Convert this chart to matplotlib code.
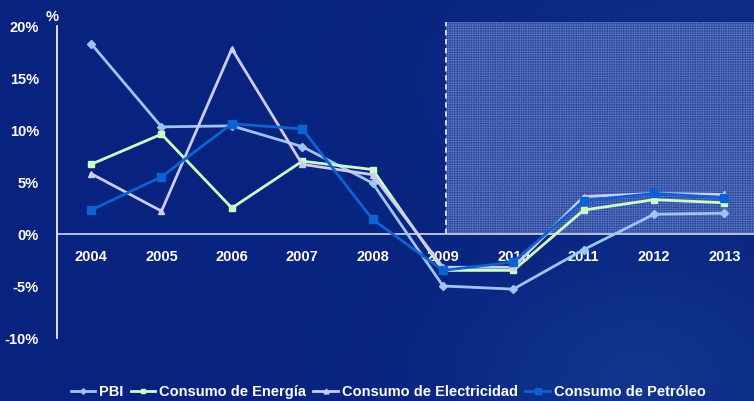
import matplotlib
matplotlib.use("Agg")
import matplotlib.pyplot as plt
import numpy as np
from matplotlib.patches import Rectangle

plt.rcParams['font.family'] = ['Liberation Sans', 'DejaVu Sans']
plt.rcParams['hatch.linewidth'] = 0.5

years = ["2004", "2005", "2006", "2007", "2008", "2009", "2010", "2011", "2012", "2013"]
pbi = [18.3, 10.3, 10.4, 8.4, 4.9, -5.0, -5.3, -1.5, 1.9, 2.0]
energia = [6.7, 9.6, 2.5, 7.0, 6.2, -3.5, -3.5, 2.3, 3.3, 3.0]
electricidad = [5.8, 2.2, 17.8, 6.7, 5.7, -3.2, -3.2, 3.6, 3.9, 3.8]
petroleo = [2.3, 5.5, 10.6, 10.1, 1.4, -3.5, -2.7, 3.2, 3.9, 3.5]
yticks = [-10, -5, 0, 5, 10, 15, 20]
ytick_labels = ["-10%", "-5%", "0%", "5%", "10%", "15%", "20%"]
labels = ["PBI", "Consumo de Energía", "Consumo de Electricidad", "Consumo de Petróleo"]

fig = plt.figure(figsize=(7.54, 4.01), dpi=100)
fig.patch.set_facecolor('#0a2c8c')

# subtle background gradient
bg = fig.add_axes([0, 0, 1, 1], zorder=-10)
yy, xx = np.mgrid[0:1:200j, 0:1:380j]
grad = 0.5 * np.exp(-((xx - 0.85) ** 2 / 0.05 + (yy - 0.95) ** 2 / 0.08)) \
    + 0.35 * np.exp(-((xx - 0.95) ** 2 / 0.1 + (yy - 0.2) ** 2 / 0.1))
c0 = np.array([0.03, 0.14, 0.50])
c1 = np.array([0.10, 0.27, 0.62])
img = c0[None, None, :] + (c1 - c0)[None, None, :] * grad[:, :, None]
bg.imshow(img, aspect='auto', extent=[0, 1, 0, 1], origin='upper')
bg.axis('off')

ax = fig.add_axes([57 / 754, (401 - 338) / 401, (754 - 57) / 754, (338 - 26) / 401])
ax.set_facecolor('none')
x = np.arange(len(years))
ax.set_xlim(-0.485, 9.42)
ax.set_ylim(-10, 20)

# shaded forecast region
rect = Rectangle((5.05, 0), 10, 20.4, facecolor='#23449e', edgecolor='#5b72bc',
                 hatch='+++++++', linewidth=0, clip_on=False, zorder=0)
ax.add_patch(rect)
ax.plot([5.05, 5.05], [0, 20.4], color='#dde4f4', linestyle=(0, (3, 2)),
        linewidth=1.3, clip_on=False, zorder=1)

ax.axhline(0, color='#c8cce0', linewidth=1.3, zorder=1)

ax.plot(x, pbi, color='#99c6f4', marker='D', markersize=4, linewidth=2, label=labels[0], zorder=3)
ax.plot(x, energia, color='#ccffc8', marker='s', markersize=5, linewidth=2, label=labels[1], zorder=3)
ax.plot(x, electricidad, color='#ccccf4', marker='^', markersize=5, linewidth=2, label=labels[2], zorder=3)
ax.plot(x, petroleo, color='#0c62d2', marker='s', markersize=6, linewidth=2, label=labels[3], zorder=4)

for s in ['top', 'right', 'bottom']:
    ax.spines[s].set_visible(False)
ax.spines['left'].set_color('white')
ax.spines['left'].set_linewidth(1.2)

ax.set_yticks(yticks)
ax.set_yticklabels(ytick_labels)
ax.tick_params(axis='y', length=0, pad=13, labelcolor='white', labelsize=10.5)
for t in ax.get_yticklabels():
    t.set_fontweight('bold')
ax.set_xticks([])
for i, yr in enumerate(years):
    ax.text(i, -2.2, yr, ha='center', va='center', color='white',
            fontsize=10.5, fontweight='bold', zorder=2)

fig.text(52 / 754, 1 - 17 / 401, '%', color='white', fontsize=10.5, fontweight='bold',
         ha='center', va='center')

leg = fig.legend(loc='center', bbox_to_anchor=(388 / 754, 1 - 392 / 401), ncol=4,
                 frameon=False, fontsize=10.5, handlelength=1.7, handletextpad=0.25,
                 columnspacing=0.5, borderaxespad=0, markerscale=0.7)
for t in leg.get_texts():
    t.set_color('white')
    t.set_fontweight('bold')

fig.savefig('out.png', dpi=100, facecolor=fig.get_facecolor())
